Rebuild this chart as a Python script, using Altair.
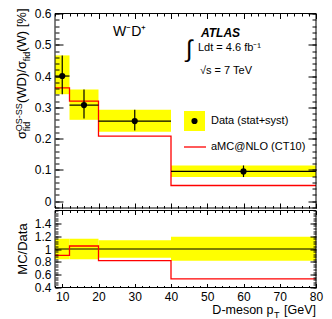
import altair as alt
import pandas as pd

FONT = "Liberation Sans"

# ---- data ----
bin_lo = [8, 12, 20, 40]
bin_hi = [12, 20, 40, 80]
x_pt = [10, 16, 30, 60]
data_y = [0.400, 0.307, 0.256, 0.095]
err_lo = [0.342, 0.264, 0.226, 0.077]
err_hi = [0.466, 0.357, 0.292, 0.114]
band_lo = [0.342, 0.260, 0.222, 0.077]
band_hi = [0.466, 0.357, 0.292, 0.114]
mc_edges = [8, 12, 20, 40, 80]
mc_y = [0.362, 0.320, 0.208, 0.050, 0.050]
ratio_mc = [0.90, 1.047, 0.82, 0.533, 0.533]
ratio_lo = [0.84, 0.84, 0.865, 0.815]
ratio_hi = [1.16, 1.16, 1.135, 1.19]
unity = [1.0]

x_major = [10, 20, 30, 40, 50, 60, 70, 80]
x_minor = list(range(8, 81, 2))
y_major = [0, 0.1, 0.2, 0.3, 0.4, 0.5, 0.6]
y_minor = [round(-0.02 + 0.02 * i, 2) for i in range(32)]
r_major = [0.4, 0.6, 0.8, 1.0, 1.2, 1.4]
r_minor = [round(0.4 + 0.04 * i, 2) for i in range(31)]

df = pd.DataFrame(dict(lo=bin_lo, hi=bin_hi, xp=x_pt, y=data_y, elo=err_lo,
                       ehi=err_hi, blo=band_lo, bhi=band_hi,
                       rlo=ratio_lo, rhi=ratio_hi))
mc = pd.DataFrame(dict(x=mc_edges, y=mc_y, r=ratio_mc))
one = pd.DataFrame({"k": [0]})
uni = pd.DataFrame({"lo": [8], "hi": [80], "y": unity})

TW, TH, BH = 261, 194.5, 77

xs = alt.Scale(domain=[8, 80], nice=False, zero=False)
ys = alt.Scale(domain=[-0.022, 0.6], nice=False, zero=False)
rs = alt.Scale(domain=[0.4, 1.6], nice=False, zero=False)


def ax(orient, values, size, labels=False, pad=4, fmt=".2~f"):
    return alt.Axis(orient=orient, values=values, tickSize=size, offset=-size,
                    labels=labels, domain=False, grid=False, title=None,
                    ticks=True, tickColor="black", tickWidth=1, zindex=1,
                    labelFont=FONT, labelFontSize=12, labelColor="black",
                    labelPadding=pad, format=fmt, labelOverlap=False,
                    labelFlush=False)


def carriers(yscale, xaxes, yaxes):
    out = []
    for xa, ya in zip(xaxes, yaxes):
        out.append(alt.Chart(df).mark_point(opacity=0).encode(
            x=alt.X("xp:Q", scale=xs, axis=xa),
            y=alt.Y("y:Q" if yscale is ys else "rlo:Q", scale=yscale, axis=ya)))
    return out


def txt(s, px, py, size=11, align="left", baseline="middle", angle=0,
        weight="normal", style="normal"):
    return alt.Chart(one).mark_text(
        text=s, fontSize=size, align=align, baseline=baseline, angle=angle,
        font=FONT, fontWeight=weight, fontStyle=style, color="black"
    ).encode(x=alt.value(px), y=alt.value(py))


def frame(h):
    return alt.Chart(one).mark_rect(filled=False, stroke="black", strokeWidth=1).encode(
        x=alt.value(0), x2=alt.value(TW), y=alt.value(0), y2=alt.value(h))


X = lambda f: alt.X(f, type="quantitative", scale=xs, axis=None)

# ---- top panel ----
band = alt.Chart(df).mark_rect(color="#ffff00").encode(
    x=X("lo"), x2="hi", y=alt.Y("blo:Q", scale=ys, axis=None), y2="bhi")
mcline = alt.Chart(mc).mark_line(color="#ff0000", strokeWidth=1.3,
                                 interpolate="step-after").encode(
    x=X("x"), y=alt.Y("y:Q", scale=ys, axis=None))
hbar = alt.Chart(df).mark_rule(color="black", strokeWidth=1.2).encode(
    x=X("lo"), x2="hi", y=alt.Y("y:Q", scale=ys, axis=None))
vbar = alt.Chart(df).mark_rule(color="black", strokeWidth=1.2).encode(
    x=X("xp"), y=alt.Y("elo:Q", scale=ys, axis=None), y2="ehi")
pts = alt.Chart(df).mark_circle(size=38, color="black", opacity=1).encode(
    x=X("xp"), y=alt.Y("y:Q", scale=ys, axis=None))

top_car = carriers(
    ys,
    [ax("bottom", x_major, 5), ax("bottom", x_minor, 2.5),
     ax("top", x_major, 5), ax("top", x_minor, 2.5)],
    [ax("left", y_major, 8, True, 4), ax("left", y_minor, 4),
     ax("right", y_major, 8), ax("right", y_minor, 4)])

leg_box = alt.Chart(one).mark_rect(color="#ffff00").encode(
    x=alt.value(129), x2=alt.value(150), y=alt.value(97.5), y2=alt.value(117.5))
leg_dot = alt.Chart(one).mark_circle(size=38, color="black", opacity=1).encode(
    x=alt.value(139.5), y=alt.value(107.5))
leg_line = alt.Chart(one).mark_rule(color="#ff0000", strokeWidth=1.3).encode(
    x=alt.value(129), x2=alt.value(151), y=alt.value(133.5))

top_text = [
    txt("Data (stat+syst)", 156, 107.5),
    txt("aMC@NLO (CT10)", 156, 133.5),
    txt("ATLAS", 146, 19, size=12, weight="bold", style="italic"),
    txt("∫", 131, 36, size=24),
    txt("Ldt = 4.6 fb⁻¹", 143, 34.5),
    txt("√s = 7 TeV", 145, 57.5),
    txt("W⁻D⁺", 58, 18.5, size=14),
    # y title, rotated
    txt("σ", -29, 125.5, size=13, baseline="alphabetic", angle=270),
    txt("OS-SS", -33.5, 117.7, size=9, baseline="alphabetic", angle=270),
    txt("fid", -25, 117.7, size=9, baseline="alphabetic", angle=270),
    txt("(WD)/σ", -29, 89.5, size=13, baseline="alphabetic", angle=270),
    txt("fid", -25, 47.8, size=9, baseline="alphabetic", angle=270),
    txt("(W) [%]", -29, 38.3, size=13, baseline="alphabetic", angle=270),
]

top = alt.layer(band, mcline, hbar, vbar, pts, *top_car, frame(TH),
                leg_box, leg_dot, leg_line, *top_text).properties(
    width=TW, height=TH).resolve_axis(x="independent", y="independent")

# ---- bottom panel ----
rband = alt.Chart(df).mark_rect(color="#ffff00").encode(
    x=X("lo"), x2="hi", y=alt.Y("rlo:Q", scale=rs, axis=None), y2="rhi")
rone = alt.Chart(uni).mark_rule(color="black", strokeWidth=1.2).encode(
    x=X("lo"), x2="hi", y=alt.Y("y:Q", scale=rs, axis=None))
rline = alt.Chart(mc).mark_line(color="#ff0000", strokeWidth=1.3,
                                interpolate="step-after").encode(
    x=X("x"), y=alt.Y("r:Q", scale=rs, axis=None))

bot_car = carriers(
    rs,
    [ax("bottom", x_major, 4, True, 4, "d"), ax("bottom", x_minor, 2),
     ax("top", x_major, 4), ax("top", x_minor, 2)],
    [ax("left", r_major, 6, True, 4), ax("left", r_minor, 3),
     ax("right", r_major, 6), ax("right", r_minor, 3)])

bot_text = [
    txt("MC/Data", -28, BH / 2, size=13, align="center",
        baseline="alphabetic", angle=270),
    txt("[GeV]", TW, 103.5, size=12.5, align="right", baseline="alphabetic"),
    txt("T", 219, 107, size=9, baseline="alphabetic"),
    txt("D-meson p", 218.5, 103.5, size=12.5, align="right", baseline="alphabetic"),
]

bottom = alt.layer(rband, rone, rline, *bot_car, frame(BH), *bot_text).properties(
    width=TW, height=BH).resolve_axis(x="independent", y="independent")

chart = alt.vconcat(top, bottom, spacing=0).configure(
    padding={"left": 5, "top": -1.5, "right": 0, "bottom": 0}, font=FONT
).configure_view(stroke="transparent")

chart.save("out.html", embed_options={"renderer": "svg", "actions": False})
